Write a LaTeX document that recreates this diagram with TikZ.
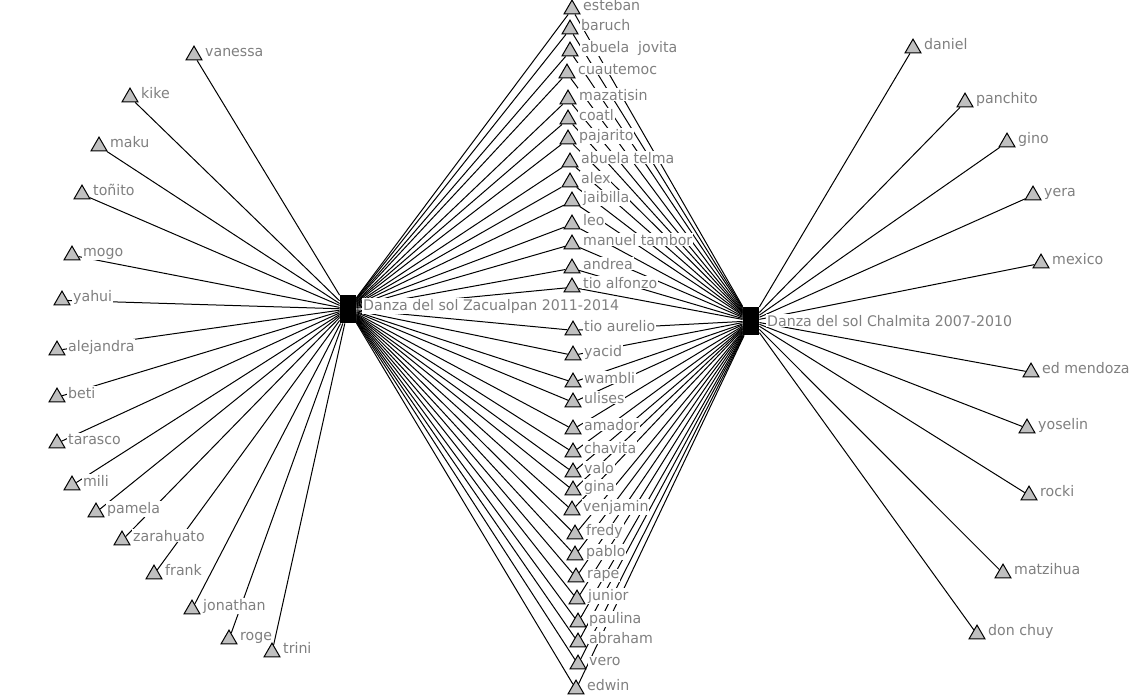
\documentclass[tikz,border=0pt]{standalone}
\usepackage{fontspec}
\setmainfont{DejaVu Sans}[FakeStretch=0.97]
\usetikzlibrary{shapes.geometric,backgrounds}

\definecolor{actorfill}{HTML}{C0C0C0}
\definecolor{labelgray}{HTML}{808080}

\tikzset{
  actor/.style={regular polygon,regular polygon sides=3,draw=black,fill=actorfill,
    line width=0.5pt,minimum size=9.2pt,inner sep=0pt,yshift=-1.15pt},
  hub/.style={rectangle,fill=black,minimum width=8pt,minimum height=14pt,inner sep=0pt},
  lbl/.style={font=\fontsize{7.3pt}{8pt}\selectfont,text=labelgray,fill=white,
    inner sep=0.4pt,anchor=base west},
  tie/.style={line width=0.5pt,black}
}

\begin{document}
\begin{tikzpicture}[x=0.5pt,y=-0.5pt]
  \useasboundingbox (0,0) rectangle (1138,697);
  % the two events
  \node[hub] (zac) at (348,309) {};
  \node[lbl] (zac-t) at (362,310) {Danza del sol Zacualpan 2011-2014};
  \node[hub] (chal) at (751,321) {};
  \node[lbl] (chal-t) at (766,326) {Danza del sol Chalmita 2007-2010};
  % dancers of both events
  \foreach \nm/\x/\y/\txt in {esteban/572/7/esteban, baruch/570/27/baruch,
      jovita/570/49/{abuela\ \ jovita}, cuautemoc/567/71/cuautemoc,
      mazatisin/568/97/mazatisin, coatl/568/117/coatl, pajarito/568/137/pajarito,
      telma/570/160/abuela telma, alex/570/180/alex, jaibilla/572/199/jaibilla,
      leo/572/222/leo, tambor/572/242/manuel tambor, andrea/572/266/andrea,
      alfonzo/572/285/tio alfonzo, aurelio/573/328/tio aurelio, yacid/573/353/yacid,
      wambli/573/380/wambli, ulises/573/400/ulises, amador/573/427/amador,
      chavita/573/450/chavita, valo/573/470/valo, gina/573/488/gina,
      venjamin/572/508/venjamin, fredy/575/532/fredy, pablo/575/553/pablo,
      rape/576/575/rape, junior/577/597/junior, paulina/578/620/paulina,
      abraham/578/640/abraham, vero/578/662/vero, edwin/576/687/edwin}
    {\node[actor] (\nm) at (\x,\y) {};
     \node[lbl] (\nm-t) at ([shift={(10,1)}]\nm.center) {\txt};
     \begin{scope}[on background layer]
       \draw[tie] (zac) -- (\nm);
       \draw[tie] (chal) -- (\nm);
     \end{scope}}
  % Zacualpan only
  \foreach \nm/\x/\y/\txt in {vanessa/194/53/vanessa, kike/130/95/kike, maku/99/144/maku,
      tonito/82/192/toñito, mogo/72/253/mogo, yahui/62/298/yahui,
      alejandra/57/348/alejandra, beti/57/395/beti, tarasco/57/441/tarasco,
      mili/72/483/mili, pamela/96/510/pamela, zarahuato/122/538/zarahuato,
      frank/154/572/frank, jonathan/192/607/jonathan, roge/229/637/roge,
      trini/272/650/trini}
    {\node[actor] (\nm) at (\x,\y) {};
     \node[lbl] (\nm-t) at ([shift={(10,1)}]\nm.center) {\txt};
     \begin{scope}[on background layer]
       \draw[tie] (zac) -- (\nm);
     \end{scope}}
  % Chalmita only
  \foreach \nm/\x/\y/\txt in {daniel/913/46/daniel, panchito/965/100/panchito,
      gino/1007/140/gino, yera/1033/193/yera, mexico/1041/261/mexico,
      mendoza/1031/370/ed mendoza, yoselin/1027/426/yoselin, rocki/1029/493/rocki,
      matzihua/1003/571/matzihua, chuy/977/632/don chuy}
    {\node[actor] (\nm) at (\x,\y) {};
     \node[lbl] (\nm-t) at ([shift={(10,1)}]\nm.center) {\txt};
     \begin{scope}[on background layer]
       \draw[tie] (chal) -- (\nm);
     \end{scope}}
\end{tikzpicture}
\end{document}
